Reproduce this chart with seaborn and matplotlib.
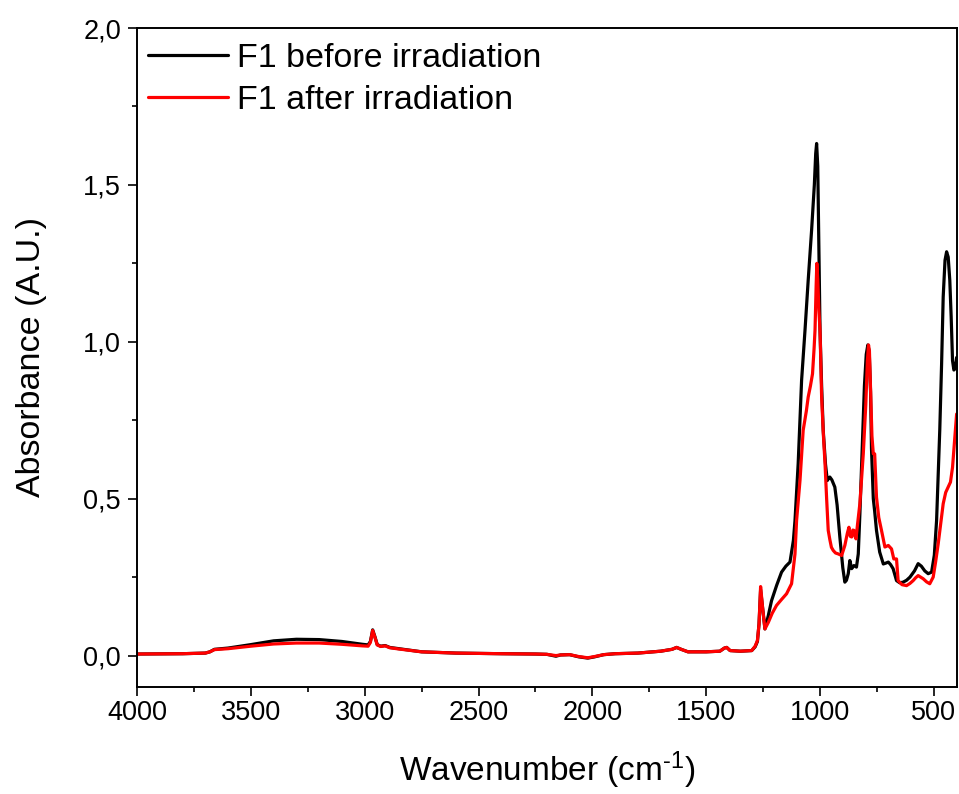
import numpy as np
import pandas as pd
import matplotlib
matplotlib.use("Agg")
import matplotlib.pyplot as plt
from matplotlib.ticker import MultipleLocator, FuncFormatter
import seaborn as sns

# FTIR spectrum of F1
wn_before = [4000, 3800, 3700, 3680, 3660, 3600, 3500, 3400, 3300, 3200, 3100, 3010,
             2985, 2975, 2965, 2955, 2945, 2930, 2910, 2890, 2850, 2750, 2600, 2400,
             2250, 2200, 2160, 2140, 2100, 2060, 2020, 1990, 1950, 1900, 1800, 1700,
             1650, 1630, 1610, 1580, 1500, 1440, 1420, 1410, 1395, 1350, 1300, 1285,
             1275, 1268, 1261, 1252, 1242, 1228, 1213, 1190, 1169, 1150, 1132, 1117,
             1110, 1096, 1081, 1066, 1052, 1037, 1025, 1019, 1015, 1010, 1006, 1000,
             993, 986, 976, 968, 962, 957, 948, 935, 925, 913, 900, 891, 884, 876, 869,
             861, 851, 840, 832, 825, 815, 805, 797, 790, 784, 778, 774, 766, 760, 752,
             738, 722, 710, 700, 690, 679, 664, 650, 635, 620, 605, 585, 569, 555, 540,
             525, 510, 498, 488, 474, 466, 459, 451, 444, 437, 430, 424, 418, 412, 406,
             400]
abs_before = [0.005, 0.006, 0.008, 0.012, 0.020, 0.024, 0.035, 0.047, 0.052, 0.051,
              0.045, 0.036, 0.034, 0.045, 0.082, 0.060, 0.035, 0.030, 0.032, 0.026,
              0.022, 0.012, 0.008, 0.006, 0.005, 0.004, -0.002, 0.002, 0.003, -0.004,
              -0.008, -0.004, 0.003, 0.006, 0.008, 0.014, 0.020, 0.026, 0.020, 0.012,
              0.012, 0.014, 0.024, 0.026, 0.016, 0.014, 0.016, 0.028, 0.045, 0.10,
              0.21, 0.15, 0.085, 0.125, 0.175, 0.225, 0.266, 0.285, 0.298, 0.367,
              0.43, 0.612, 0.877, 1.037, 1.196, 1.356, 1.50, 1.60, 1.632, 1.56, 1.36,
              1.037, 0.86, 0.718, 0.61, 0.558, 0.565, 0.569, 0.56, 0.537, 0.48, 0.378,
              0.28, 0.234, 0.24, 0.261, 0.303, 0.277, 0.287, 0.282, 0.324, 0.45, 0.66,
              0.86, 0.96, 0.99, 0.97, 0.84, 0.66, 0.50, 0.46, 0.399, 0.33, 0.292,
              0.295, 0.298, 0.29, 0.277, 0.239, 0.232, 0.234, 0.24, 0.25, 0.27, 0.293,
              0.285, 0.27, 0.261, 0.266, 0.32, 0.431, 0.72, 0.93, 1.143, 1.26, 1.287,
              1.27, 1.196, 1.08, 0.94, 0.91, 0.915, 0.95]

wn_after = [4000, 3800, 3700, 3680, 3660, 3600, 3500, 3400, 3300, 3200, 3100, 3010,
            2985, 2975, 2965, 2955, 2945, 2930, 2910, 2890, 2850, 2750, 2600, 2400,
            2250, 2200, 2160, 2140, 2100, 2060, 2020, 1990, 1950, 1900, 1800, 1700,
            1650, 1630, 1610, 1580, 1500, 1440, 1420, 1410, 1395, 1350, 1300, 1285,
            1275, 1268, 1261, 1252, 1242, 1227, 1210, 1191, 1170, 1147, 1125, 1110,
            1103, 1088, 1074, 1060, 1052, 1042, 1033, 1026, 1022, 1017, 1014, 1010,
            1005, 1000, 993, 985, 978, 971, 964, 957, 950, 942, 932, 920, 905, 891,
            880, 873, 867, 861, 856, 851, 846, 842, 835, 825, 810, 799, 792, 787, 783,
            778, 772, 766, 760, 752, 742, 730, 715, 700, 686, 676, 664, 657, 640, 620,
            605, 591, 580, 569, 558, 547, 532, 518, 503, 492, 481, 470, 459, 448, 437,
            427, 418, 408, 400]
abs_after = [0.005, 0.006, 0.008, 0.012, 0.019, 0.022, 0.030, 0.037, 0.040, 0.040,
             0.036, 0.031, 0.030, 0.042, 0.080, 0.058, 0.034, 0.029, 0.031, 0.025,
             0.021, 0.012, 0.008, 0.006, 0.005, 0.004, 0.0, 0.002, 0.003, -0.003,
             -0.007, -0.003, 0.003, 0.006, 0.008, 0.014, 0.020, 0.026, 0.020, 0.012,
             0.012, 0.014, 0.024, 0.026, 0.016, 0.014, 0.016, 0.030, 0.048, 0.10,
             0.22, 0.15, 0.085, 0.106, 0.135, 0.16, 0.178, 0.197, 0.229, 0.324,
             0.43, 0.558, 0.718, 0.78, 0.824, 0.86, 0.898, 0.98, 1.037, 1.18, 1.25,
             1.20, 1.10, 1.037, 0.824, 0.70, 0.611, 0.50, 0.399, 0.37, 0.345, 0.335,
             0.327, 0.324, 0.319, 0.351, 0.39, 0.409, 0.38, 0.378, 0.40, 0.399, 0.38,
             0.372, 0.42, 0.484, 0.643, 0.80, 0.94, 0.99, 0.97, 0.85, 0.70, 0.643,
             0.643, 0.505, 0.44, 0.399, 0.346, 0.351, 0.34, 0.308, 0.308, 0.239,
             0.226, 0.223, 0.23, 0.239, 0.248, 0.255, 0.25, 0.245, 0.235, 0.229,
             0.25, 0.30, 0.356, 0.42, 0.484, 0.52, 0.537, 0.553, 0.60, 0.696, 0.77]

labels = ["F1 before irradiation", "F1 after irradiation"]
colors = ["#000000", "#ff0000"]

df = pd.concat([
    pd.DataFrame({"wn": wn_before, "A": abs_before, "sample": labels[0]}),
    pd.DataFrame({"wn": wn_after, "A": abs_after, "sample": labels[1]}),
])

sns.set_style("ticks")
plt.rcParams["font.family"] = ["Liberation Sans", "DejaVu Sans"]
plt.rcParams["mathtext.fontset"] = "custom"
plt.rcParams["mathtext.rm"] = "Liberation Sans"
plt.rcParams["mathtext.it"] = "Liberation Sans"
plt.rcParams["text.color"] = "black"
plt.rcParams["axes.labelcolor"] = "black"

fig = plt.figure(figsize=(9.59, 7.94), dpi=100)
ax = fig.add_axes([0.1429, 0.1348, 0.8551, 0.8299])

sns.lineplot(data=df, x="wn", y="A", hue="sample", palette=colors,
             sort=False, estimator=None, linewidth=2.3, ax=ax)

ax.set_xlim(4000, 398)
ax.set_ylim(-0.1, 2.0)
ax.xaxis.set_major_locator(MultipleLocator(500))
ax.xaxis.set_minor_locator(MultipleLocator(250))
ax.yaxis.set_major_locator(MultipleLocator(0.5))
ax.yaxis.set_minor_locator(MultipleLocator(0.25))
ax.yaxis.set_major_formatter(FuncFormatter(lambda v, p: f"{v:.1f}".replace(".", ",")))

ax.tick_params(which="major", direction="out", length=6.5, width=1.2,
               labelsize=19.5, pad=3, colors="black")
ax.tick_params(which="minor", direction="out", length=3.8, width=1.2, colors="black")
ax.tick_params(axis="y", which="major", pad=5)
for s in ax.spines.values():
    s.set_linewidth(1.4)
    s.set_color("black")

ax.set_xlabel(r"Wavenumber (cm$^{\text{-1}}$)", fontsize=24, labelpad=17)
ax.set_ylabel("Absorbance (A.U.)", fontsize=24.5, labelpad=26)

leg = ax.legend(loc="upper left", bbox_to_anchor=(-0.005, 1.0), frameon=False,
                fontsize=24.5, handlelength=2.35, handletextpad=0.25,
                labelspacing=0.32, borderaxespad=0.25, borderpad=0.2)
for line in leg.get_lines():
    line.set_linewidth(2.3)

fig.savefig("out.png", dpi=100)
